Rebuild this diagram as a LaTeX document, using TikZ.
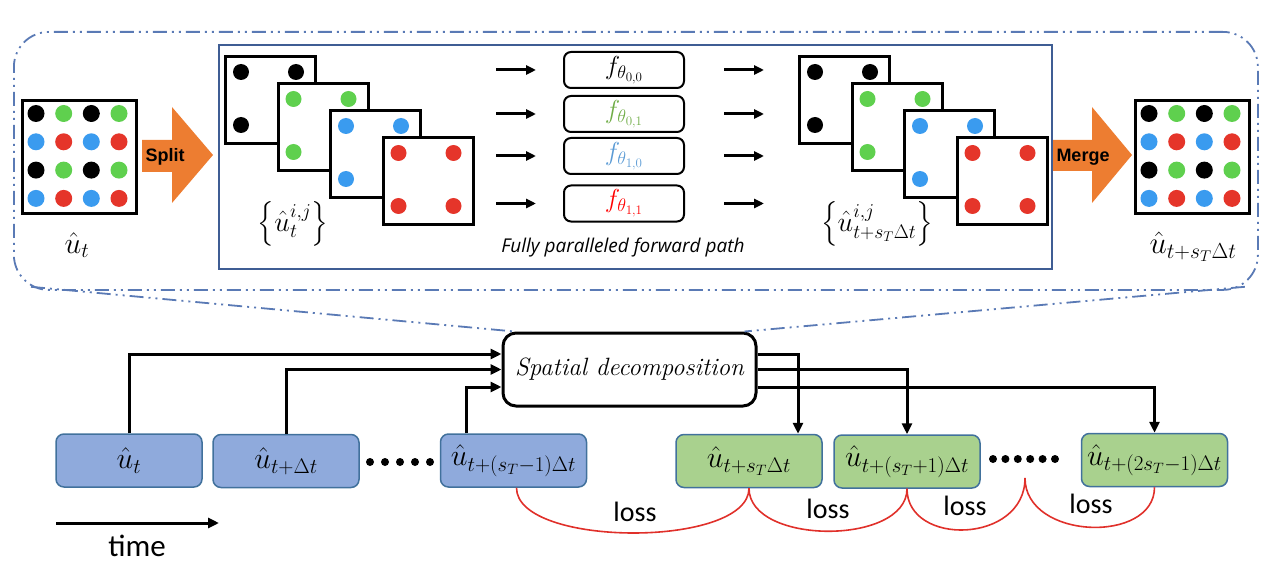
\RequirePackage{fix-cm}
\documentclass[tikz,border=0pt]{standalone}
\usepackage{amsmath}
\usepackage{fontspec}
\usetikzlibrary{arrows.meta,calc}
\newfontfamily\carlitofont{Carlito}
\newfontfamily\arialfont{Liberation Sans}
\newfontfamily\opensansfont{Open Sans}
\definecolor{bluef}{HTML}{8FAADC}
\definecolor{greenf}{HTML}{A9D18E}
\definecolor{boxb}{HTML}{41719C}
\definecolor{ddblue}{HTML}{5A7AB5}
\definecolor{panelb}{HTML}{3F5D94}
\definecolor{dgreen}{HTML}{5FD04E}
\definecolor{dblue}{HTML}{3A9BEF}
\definecolor{dred}{HTML}{E5352A}
\definecolor{arrorange}{HTML}{ED7D31}
\definecolor{fgreen}{HTML}{70AD47}
\definecolor{fblue}{HTML}{5B9BD5}
\definecolor{fred}{HTML}{FF0000}
\definecolor{lossred}{HTML}{E0302A}
\begin{document}
\begin{tikzpicture}[x=1pt,y=-1pt,
  card/.style={draw=black,line width=3pt,fill=white,minimum width=90pt,minimum height=87pt,anchor=north west,inner sep=0pt},
  gridbox/.style={draw=black,line width=3pt,fill=white,minimum width=114pt,minimum height=113pt,anchor=north west,inner sep=0pt},
  fbox/.style={draw=black,line width=2pt,rounded corners=7pt,minimum width=120pt,minimum height=36pt,inner sep=0pt,font=\fontsize{26}{30}\selectfont},
  stepbox/.style={draw=boxb,line width=1.5pt,rounded corners=8pt,minimum width=146pt,minimum height=53pt,inner sep=0pt,font=\fontsize{30}{34}\selectfont},
  bluebox/.style={stepbox,fill=bluef},
  greenbox/.style={stepbox,fill=greenf},
  conn/.style={line width=3pt,-{Triangle[length=11pt,width=10pt]}},
  sarr/.style={line width=3pt,-{Triangle[length=10pt,width=9pt]}},
  lossline/.style={draw=lossred,line width=1.6pt},
  ddline/.style={draw=ddblue,line width=1.8pt,dash pattern=on 14pt off 5pt on 2pt off 5pt on 2pt off 5pt},
  losslabel/.style={font=\carlitofont\fontsize{28}{32}\selectfont},
  bigarrow/.style={fill=arrorange},
  arrlabel/.style={font=\arialfont\bfseries\fontsize{18}{22}\selectfont}
]
\useasboundingbox (0,0) rectangle (1270,567);

% outer dash-dot frame
\node[ddline,rounded corners=35pt,minimum width=1244pt,minimum height=258pt,anchor=north west,inner sep=0pt] (outer) at (13,31) {};
% inner panel
\node[draw=panelb,line width=2pt,minimum width=833pt,minimum height=224pt,anchor=north west,inner sep=0pt] (panel) at (218,44) {};

% grids
\node[gridbox] (gl) at (21,99) {};
\node[gridbox] (gr) at (1134,99) {};
\foreach \g in {gl,gr}{
  \foreach \yy in {14.5,71.1}{
    \foreach \xx in {15,70.3} \fill[black] ([shift={(\xx,\yy)}]\g.north west) circle[radius=8.5pt];
    \foreach \xx in {42.7,98} \fill[dgreen] ([shift={(\xx,\yy)}]\g.north west) circle[radius=8.5pt];
  }
  \foreach \yy in {42.8,99.4}{
    \foreach \xx in {15,70.3} \fill[dblue] ([shift={(\xx,\yy)}]\g.north west) circle[radius=8.5pt];
    \foreach \xx in {42.7,98} \fill[dred] ([shift={(\xx,\yy)}]\g.north west) circle[radius=8.5pt];
  }
}

% cards
\foreach \side/\x in {l/224,r/798}{
  \foreach \k/\col in {1/black,2/dgreen,3/dblue,4/dred}{
    \node[card] (c\side\k) at ({\x+(\k-1)*52.5},{55+(\k-1)*27}) {};
    \foreach \xx/\yy in {17/17,72/17,17/70,72/70}
      \fill[\col] ([shift={(\xx,\yy)}]c\side\k.north west) circle[radius=8pt];
  }
}

% split / merge arrows
\fill[bigarrow] (142,140) -- (172,140) -- (172,107) -- (213,155) -- (172,203) -- (172,172) -- (142,172) -- cycle;
\node[arrlabel] (split) at (165,157) {Split};
\fill[bigarrow] (1053,140) -- (1092,140) -- (1092,107) -- (1132,155) -- (1092,203) -- (1092,171) -- (1053,171) -- cycle;
\node[arrlabel] (merge) at (1083,157) {Merge};

% labels
\node[font=\fontsize{30}{34}\selectfont] (ut) at (77,245) {$\hat u_t$};
\node[font=\fontsize{31}{35}\selectfont] (uout) at (1193,247) {$\hat u_{t+s_T\Delta t}$};
\node[font=\fontsize{28}{32}\selectfont] (setl) at (293,224) {$\left\{\hat u_t^{i,j}\right\}$};
\node[font=\fontsize{28}{32}\selectfont] (setr) at (877,224) {$\left\{\hat u^{i,j}_{t+s_T\Delta t}\right\}$};
\node[font=\opensansfont\itshape\fontsize{19}{23}\selectfont] (fpath) at (623,248) {Fully paralleled forward path};

% f boxes
\node[fbox] (f1) at (624,70) {$f_{\theta_{0,0}}$};
\node[fbox,text=fgreen] (f2) at (624,114) {$f_{\theta_{0,1}}$};
\node[fbox,text=fblue] (f3) at (624,156) {$f_{\theta_{1,0}}$};
\node[fbox,text=fred] (f4) at (624,203.5) {$f_{\theta_{1,1}}$};
\foreach \f in {f1,f2,f3,f4}{
  \draw[sarr] ([xshift=-67pt]\f.west) -- ([xshift=-27pt]\f.west);
  \draw[sarr] ([xshift=39pt]\f.east) -- ([xshift=79pt]\f.east);
}

% spatial decomposition
\node[draw=black,line width=3pt,rounded corners=13pt,fill=white,minimum width=253pt,minimum height=73pt,inner sep=0pt,font=\itshape\fontsize{25}{29}\selectfont] (sd) at (629.5,369.5) {Spatial decomposition};
\draw[ddline] ([xshift=18pt,yshift=4pt]outer.south west) -- ([xshift=13pt]sd.north west);
\draw[ddline] ([xshift=-14pt,yshift=4pt]outer.south east) -- ([xshift=-13pt]sd.north east);

% time-step boxes
\node[bluebox] (b1) at (129,460.5) {$\hat u_t$};
\node[bluebox] (b2) at (286,461) {$\hat u_{t+\Delta t}$};
\node[bluebox] (b3) at (513.5,460.5) {$\hat u_{t+(s_T-1)\Delta t}$};
\node[greenbox] (b4) at (749,461) {$\hat u_{t+s_T\Delta t}$};
\node[greenbox] (b5) at (907,461.5) {$\hat u_{t+(s_T+1)\Delta t}$};
\node[greenbox] (b6) at (1154.5,460) {$\hat u_{t+(2s_T-1)\Delta t}$};

% dots
\foreach \xx in {0,...,4} \fill[black] ({370+\xx*15},462) circle[radius=4pt];
\foreach \xx in {0,...,5} \fill[black] ({993+\xx*12.4},459) circle[radius=4pt];

% connectors
\draw[conn] (b1.north) |- ([yshift=15.5pt]sd.west);
\draw[conn] (b2.north) |- (sd.west);
\draw[conn] ([xshift=-47pt]b3.north) |- ([yshift=-17.5pt]sd.west);
\draw[conn] ([yshift=15.5pt]sd.east) -| ([xshift=49pt]b4.north);
\draw[conn] (sd.east) -| (b5.north);
\draw[conn] ([yshift=-17.5pt]sd.east) -| (b6.north);

% loss curves
\coordinate (cusp) at (1025,478);
\draw[lossline] ([xshift=3pt]b3.south) .. controls +(0,60) and +(0,60) .. (b4.south);
\draw[lossline] (b4.south) .. controls +(0,57) and +(0,57) .. (b5.south);
\draw[lossline] (b5.south) .. controls +(0,58) and +(0,66) .. (cusp);
\draw[lossline] (cusp) .. controls +(0,62) and +(0,57) .. (b6.south);
\node[losslabel] (l1) at (635,512) {loss};
\node[losslabel] (l2) at (828,509) {loss};
\node[losslabel] (l3) at (965,506) {loss};
\node[losslabel] (l4) at (1091,504) {loss};

% time arrow
\coordinate (t0) at (56,523);
\coordinate (t1) at (219,523);
\draw[conn] (t0) -- (t1);
\node[font=\carlitofont\fontsize{31}{35}\selectfont] (time) at (137,546) {time};
\end{tikzpicture}
\end{document}
